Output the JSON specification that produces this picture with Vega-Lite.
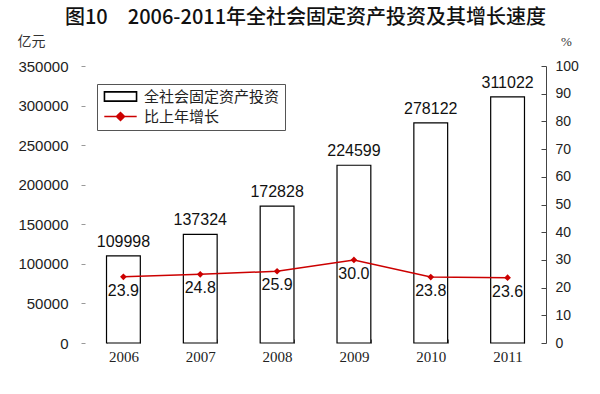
{
  "$schema": "https://vega.github.io/schema/vega-lite/v6.json",
  "autosize": {"type": "none"},
  "width": 461,
  "height": 277,
  "padding": {"left": 85, "top": 66, "right": 54, "bottom": 51},
  "background": "white",
  "title": {
    "text": "图10　2006-2011年全社会固定资产投资及其增长速度",
    "font": "Noto Sans CJK SC",
    "fontSize": 20,
    "fontWeight": 500,
    "color": "#111",
    "anchor": "middle",
    "dx": -10,
    "offset": 6
  },
  "config": {
    "view": {"stroke": null},
    "axis": {"grid": false}
  },
  "data": {
    "values": [
      {"year": "2006", "inv": 109998, "growth": 23.9},
      {"year": "2007", "inv": 137324, "growth": 24.8},
      {"year": "2008", "inv": 172828, "growth": 25.9},
      {"year": "2009", "inv": 224599, "growth": 30.0},
      {"year": "2010", "inv": 278122, "growth": 23.8},
      {"year": "2011", "inv": 311022, "growth": 23.6}
    ]
  },
  "encoding": {
    "x": {
      "field": "year",
      "type": "nominal",
      "scale": {"paddingInner": 0.56, "paddingOuter": 0.28},
      "axis": {
        "title": null,
        "labelAngle": 0,
        "labelFont": "Liberation Serif",
        "labelFontSize": 15,
        "labelColor": "#222",
        "labelPadding": 10,
        "domain": false,
        "tickBand": "extent",
        "tickSize": -4,
        "tickColor": "#666"
      }
    }
  },
  "layer": [
    {
      "encoding": {
        "y": {
          "field": "inv",
          "type": "quantitative",
          "scale": {"domain": [0, 350000]},
          "axis": {
            "values": [0, 50000, 100000, 150000, 200000, 250000, 300000, 350000],
            "format": "d",
            "title": "亿元",
            "titleAngle": 0,
            "titleX": -54,
            "titleY": -25,
            "titleAlign": "center",
            "titleBaseline": "middle",
            "titleFont": "Noto Sans CJK SC",
            "titleFontSize": 14,
            "titleFontWeight": "normal",
            "titleColor": "#333",
            "labelFont": "Liberation Sans",
            "labelFontSize": 15,
            "labelColor": "#222",
            "labelPadding": 13,
            "domain": false,
            "tickSize": 4,
            "tickColor": "#999"
          }
        }
      },
      "layer": [
        {
          "mark": {"type": "bar", "filled": false, "fill": "white", "strokeWidth": 1.2},
          "encoding": {
            "color": {
              "datum": "全社会固定资产投资",
              "type": "nominal",
              "scale": {"domain": ["全社会固定资产投资", "比上年增长"], "range": ["black", "#cc0000"]},
              "legend": {
                "title": null,
                "orient": "none",
                "legendX": 12,
                "legendY": 18,
                "direction": "vertical",
                "strokeColor": "#555",
                "fillColor": "white",
                "padding": 5,
                "labelFont": "Noto Sans CJK SC",
                "labelFontSize": 15,
                "labelColor": "#222",
                "symbolSize": 144,
                "symbolOffset": 11,
                "labelOffset": 16,
                "rowPadding": 4,
                "symbolStrokeWidth": 1.3,
                "encode": {
                  "symbols": {
                    "update": {
                      "shape": {"signal": "datum.value === '全社会固定资产投资' ? 'M-2.7,-0.8H2.7V0.8H-2.7ZM-2.65,-0.75V0.75H2.65V-0.75Z' : 'M-2.7,0H2.7M-0.7,0L0,-0.7L0.7,0L0,0.7Z'"},
                      "fillOpacity": {"signal": "datum.value === '全社会固定资产投资' ? 0 : 1"},
                      "opacity": {"value": 1}
                    }
                  }
                }
              }
            }
          }
        },
        {
          "mark": {"type": "text", "baseline": "bottom", "dy": -6, "font": "Liberation Sans", "fontSize": 16, "color": "#111"},
          "encoding": {"text": {"field": "inv", "type": "quantitative", "format": "d"}}
        }
      ]
    },
    {
      "encoding": {
        "y": {
          "field": "growth",
          "type": "quantitative",
          "scale": {"domain": [0, 100]},
          "axis": {
            "orient": "right",
            "values": [0, 10, 20, 30, 40, 50, 60, 70, 80, 90, 100],
            "title": "%",
            "titleAngle": 0,
            "titleX": 20,
            "titleY": -25,
            "titleAlign": "center",
            "titleBaseline": "middle",
            "titleFont": "Liberation Serif",
            "titleFontSize": 13,
            "titleFontWeight": "normal",
            "titleColor": "#333",
            "labelFont": "Liberation Sans",
            "labelFontSize": 14,
            "labelColor": "#222",
            "labelPadding": 14,
            "domain": true,
            "domainColor": "#444",
            "tickSize": -5,
            "tickColor": "#444"
          }
        }
      },
      "layer": [
        {
          "mark": {"type": "line", "strokeWidth": 1.5, "point": {"shape": "diamond", "size": 45, "filled": true}},
          "encoding": {
            "color": {
              "datum": "比上年增长",
              "type": "nominal",
              "legend": {
                "title": null,
                "orient": "none",
                "legendX": 12,
                "legendY": 18,
                "direction": "vertical",
                "strokeColor": "#555",
                "fillColor": "white",
                "padding": 5,
                "labelFont": "Noto Sans CJK SC",
                "labelFontSize": 15,
                "labelColor": "#222",
                "symbolSize": 144,
                "symbolOffset": 11,
                "labelOffset": 16,
                "rowPadding": 4,
                "symbolStrokeWidth": 1.3,
                "encode": {
                  "symbols": {
                    "update": {
                      "shape": {"signal": "datum.value === '全社会固定资产投资' ? 'M-2.7,-0.8H2.7V0.8H-2.7ZM-2.65,-0.75V0.75H2.65V-0.75Z' : 'M-2.7,0H2.7M-0.7,0L0,-0.7L0.7,0L0,0.7Z'"},
                      "fillOpacity": {"signal": "datum.value === '全社会固定资产投资' ? 0 : 1"},
                      "opacity": {"value": 1}
                    }
                  }
                }
              }
            }
          }
        },
        {
          "mark": {"type": "text", "baseline": "top", "dy": 6, "font": "Liberation Sans", "fontSize": 16, "color": "#111"},
          "encoding": {"text": {"field": "growth", "type": "quantitative", "format": ".1f"}}
        }
      ]
    }
  ],
  "resolve": {"scale": {"y": "independent"}}
}
